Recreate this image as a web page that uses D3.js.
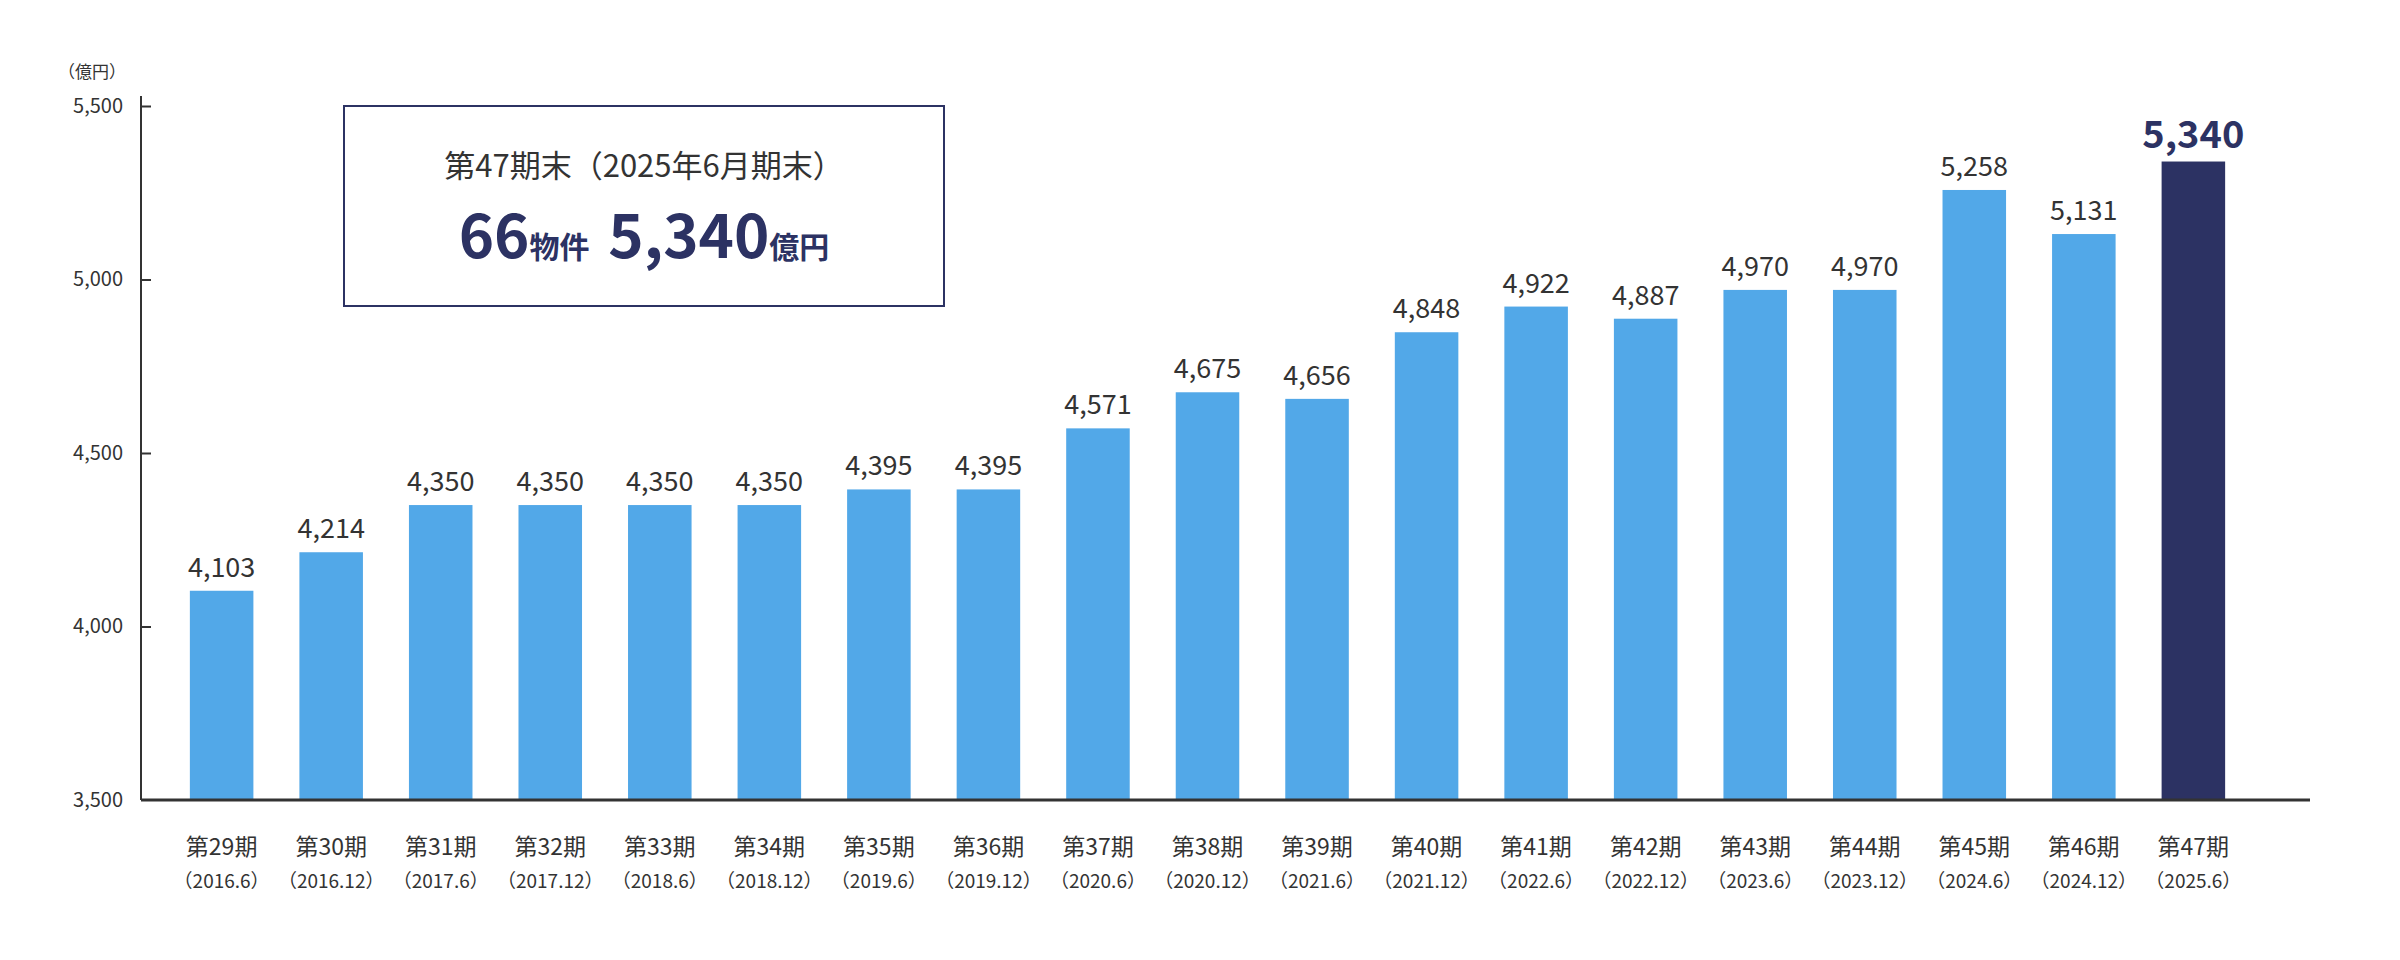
<!DOCTYPE html>
<html><head><meta charset="utf-8">
<script src="https://cdn.jsdelivr.net/npm/d3@7"></script>
<style>body{margin:0;background:#fff}svg{display:block;font-family:"Noto Sans CJK JP","Noto Sans",sans-serif}</style>
</head><body><svg id="c" width="2400" height="960"></svg>
<script>
const periods=["第29期","第30期","第31期","第32期","第33期","第34期","第35期","第36期","第37期","第38期","第39期","第40期","第41期","第42期","第43期","第44期","第45期","第46期","第47期"];
const dates=["（2016.6）","（2016.12）","（2017.6）","（2017.12）","（2018.6）","（2018.12）","（2019.6）","（2019.12）","（2020.6）","（2020.12）","（2021.6）","（2021.12）","（2022.6）","（2022.12）","（2023.6）","（2023.12）","（2024.6）","（2024.12）","（2025.6）"];
const values=[4103,4214,4350,4350,4350,4350,4395,4395,4571,4675,4656,4848,4922,4887,4970,4970,5258,5131,5340];
const yTicks=[3500,4000,4500,5000,5500];

const svg=d3.select("#c");
const L=141,R=2310,T=106,B=800;
const x=d3.scaleBand().domain(periods).range([L+16,R-52]).paddingInner(0.42).paddingOuter(0.3);
const y=d3.scaleLinear().domain([3500,5500]).range([B,T]);
const fmt=d3.format(",");
const last=periods.length-1;

svg.selectAll("rect.bar").data(values).join("rect")
 .attr("x",(d,i)=>x(periods[i])).attr("width",x.bandwidth())
 .attr("y",d=>y(d)).attr("height",d=>B-y(d))
 .attr("fill",(d,i)=>i===last?"#2C3263":"#52A8E8");

const ya=svg.append("g").attr("transform",`translate(${L},0)`)
 .call(d3.axisLeft(y).tickValues(yTicks).tickFormat(fmt).tickSize(-10).tickPadding(18));
ya.select(".domain").attr("stroke","#333").attr("stroke-width",2).attr("d",`M0,${T-10}V${B}`);
ya.selectAll(".tick line").attr("stroke","#333").attr("stroke-width",2);
ya.selectAll(".tick").filter(d=>d===3500).select("line").remove();
ya.selectAll("text").attr("font-size",20).attr("fill","#333").attr("font-family","'Noto Sans CJK JP',sans-serif");

svg.append("line").attr("x1",L).attr("x2",R).attr("y1",B).attr("y2",B).attr("stroke","#333").attr("stroke-width",3);

svg.append("text").attr("x",92).attr("y",78).attr("text-anchor","middle").attr("font-size",17).attr("fill","#333").text("（億円）");

svg.selectAll("text.v").data(values).join("text")
 .attr("x",(d,i)=>x(periods[i])+x.bandwidth()/2).attr("y",d=>y(d)-14)
 .attr("text-anchor","middle")
 .attr("font-size",(d,i)=>i===last?38:27).attr("font-weight",(d,i)=>i===last?700:400)
 .attr("fill",(d,i)=>i===last?"#2C3263":"#333").text(d=>fmt(d));

svg.selectAll("text.p").data(periods).join("text")
 .attr("x",d=>x(d)+x.bandwidth()/2).attr("y",855).attr("text-anchor","middle")
 .attr("font-size",23).attr("fill","#333").text(d=>d);
svg.selectAll("text.d").data(dates).join("text")
 .attr("x",(d,i)=>x(periods[i])+x.bandwidth()/2).attr("y",888).attr("text-anchor","middle")
 .attr("font-size",19).attr("fill","#333").text(d=>d);

svg.append("rect").attr("x",344).attr("y",106).attr("width",600).attr("height",200)
 .attr("fill","#fff").attr("stroke","#2C3263").attr("stroke-width",2);
svg.append("text").attr("x",644).attr("y",177).attr("text-anchor","middle").attr("font-size",31).attr("fill","#333").text("第47期末（2025年6月期末）");
const t=svg.append("text").attr("x",644).attr("y",258).attr("text-anchor","middle").attr("fill","#2C3263").attr("font-weight",700);
t.append("tspan").attr("font-size",60).text("66");
t.append("tspan").attr("font-size",30).text("物件 ");
t.append("tspan").attr("font-size",60).attr("dx",12).text("5,340");
t.append("tspan").attr("font-size",30).text("億円");
</script></body></html>
